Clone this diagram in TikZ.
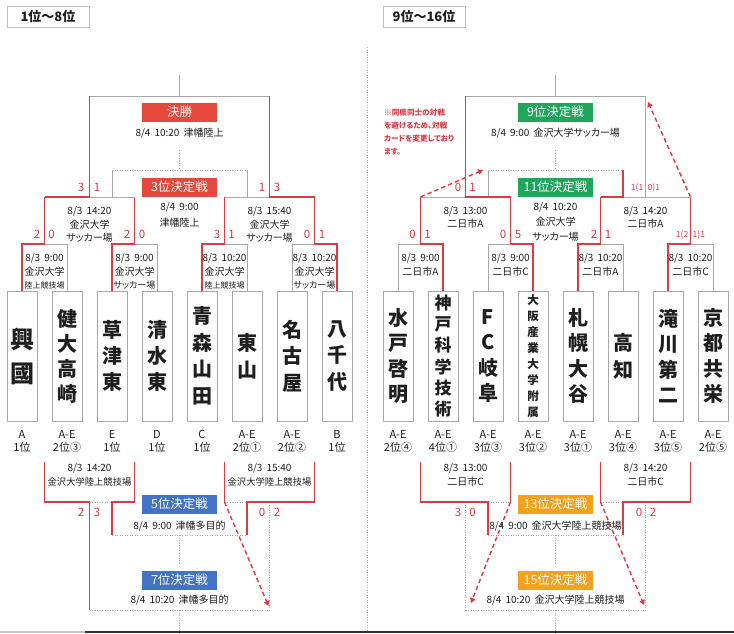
\documentclass[tikz,border=0pt]{standalone}
\usepackage{fontspec}
\setmainfont{Noto Sans CJK JP}[RawFeature=+palt]
\usetikzlibrary{arrows.meta}
\definecolor{rd}{HTML}{DC3A44}
\definecolor{gr}{HTML}{A8A8A8}
\definecolor{lbred}{HTML}{E5493D}
\definecolor{lbblue}{HTML}{4472C4}
\definecolor{lbgreen}{HTML}{1FA65A}
\definecolor{lborange}{HTML}{F4A11D}
\definecolor{txt}{HTML}{1E1E1E}
\definecolor{barc}{HTML}{2E323C}
\begin{document}
\begin{tikzpicture}[x=1pt,y=-1pt,
  gl/.style={draw=gr,line width=0.9pt},
  rl/.style={draw=rd,line width=1.3pt},
  dl/.style={draw=gr,line width=0.8pt,dash pattern=on 0.9pt off 1.6pt},
  team/.style={draw=gr,fill=white,line width=0.9pt,minimum width=30pt,minimum height=130pt,inner sep=0pt,align=center,text=txt},
  tag/.style={align=center,inner sep=0pt,text=txt,font=\fontsize{11}{13}\selectfont},
  lbl/.style={minimum width=75pt,minimum height=19pt,inner sep=0pt,text=white,font=\fontsize{12.5}{14}\selectfont},
  info/.style={align=center,inner sep=0pt,text=txt,font=\fontsize{10}{13.5}\selectfont},
  sc/.style={inner sep=0pt,text=rd,font=\fontsize{11.5}{12}\selectfont},
  scs/.style={inner sep=0pt,text=rd,font=\fontsize{8.5}{9}\selectfont},
  arr/.style={draw=rd,line width=1.4pt,dash pattern=on 4.5pt off 3pt,-{Triangle[length=5pt,width=5.5pt]}},
  ttl/.style={draw=gr!70,line width=0.8pt,minimum width=82pt,minimum height=21pt,inner sep=0pt,text=txt,font=\bfseries\fontsize{13}{14}\selectfont}
]
\useasboundingbox (0,0) rectangle (734,633);
\fill[white] (0,0) rectangle (734,633);

% titles
\node[ttl] (ttlL) at (48,16.5) {1位～8位};
\node[ttl] (ttlR) at (424,16.5) {9位～16位};

% divider
\coordinate (dv1) at (367,47);
\coordinate (dv2) at (367,633);
\draw[dl] (dv1) -- (dv2);

% bottom bar
\fill[gray!45] (0,631) rectangle (85,633);
\fill[barc] (85,631) rectangle (734,633);

% coordinates
\coordinate (m1) at (44.5,244); \coordinate (m2) at (134.5,244);
\coordinate (m3) at (224.5,244); \coordinate (m4) at (314.5,244);
\coordinate (m5) at (420.5,244); \coordinate (m6) at (510.5,244);
\coordinate (m7) at (600.5,244); \coordinate (m8) at (690.5,244);
\coordinate (s1) at (89.5,197); \coordinate (s2) at (269.5,197);
\coordinate (s3) at (465.5,197); \coordinate (s4) at (645.5,197);
\coordinate (f1) at (179.5,96); \coordinate (f2) at (555.5,96);
\coordinate (ft1) at (179.5,75); \coordinate (ft2) at (555.5,75);
\coordinate (q1) at (112,170); \coordinate (q2) at (247,170);
\coordinate (q3) at (488,170); \coordinate (q4) at (623,170);
\coordinate (h1) at (179.5,150); \coordinate (h1e) at (179.5,170);
\coordinate (h2) at (555.5,150); \coordinate (h2e) at (555.5,170);
\coordinate (n1) at (44.5,462); \coordinate (n2) at (134.5,462);
\coordinate (n3) at (224.5,462); \coordinate (n4) at (314.5,462);
\coordinate (n5) at (420.5,462); \coordinate (n6) at (510.5,462);
\coordinate (n7) at (600.5,462); \coordinate (n8) at (690.5,462);
\coordinate (w1) at (89.5,502); \coordinate (w2) at (269.5,502);
\coordinate (w3) at (465.5,502); \coordinate (w4) at (645.5,502);
\coordinate (p1) at (112,535); \coordinate (p2) at (247,535);
\coordinate (p3) at (488,535); \coordinate (p4) at (623,535);
\coordinate (z1) at (89.5,610); \coordinate (z2) at (269.5,610);
\coordinate (z3) at (465.5,610); \coordinate (z4) at (645.5,610);
\coordinate (c5a) at (179.5,535); \coordinate (c5b) at (179.5,563);
\coordinate (c7a) at (179.5,610); \coordinate (c7b) at (179.5,633);
\coordinate (c13a) at (555.5,535); \coordinate (c13b) at (555.5,563);
\coordinate (c15a) at (555.5,610); \coordinate (c15b) at (555.5,633);
\coordinate (ah1) at (483,170); \coordinate (ah2) at (648,102);
\coordinate (ah3) at (268.5,606); \coordinate (ah4) at (471,603);
\coordinate (ah5) at (644,605);

% team boxes
\node[team,font=\bfseries\fontsize{24}{34}\selectfont] (t1) at (22,356) {興\\國};
\node[team,font=\bfseries\fontsize{20}{25}\selectfont] (t2) at (67,356) {健\\大\\高\\崎};
\node[team,font=\bfseries\fontsize{20}{26}\selectfont] (t3) at (112,356) {草\\津\\東};
\node[team,font=\bfseries\fontsize{20}{26}\selectfont] (t4) at (157,356) {清\\水\\東};
\node[team,font=\bfseries\fontsize{20}{26.5}\selectfont] (t5) at (202,356) {青\\森\\山\\田};
\node[team,font=\bfseries\fontsize{20}{27}\selectfont] (t6) at (247,356) {東\\山};
\node[team,font=\bfseries\fontsize{20}{26.5}\selectfont] (t7) at (292,356) {名\\古\\屋};
\node[team,font=\bfseries\fontsize{20}{26.5}\selectfont] (t8) at (337,356) {八\\千\\代};
\node[team,font=\bfseries\fontsize{20}{25.5}\selectfont] (t9) at (398,356) {水\\戸\\啓\\明};
\node[team,font=\bfseries\fontsize{17}{21.3}\selectfont] (t10) at (443,356) {神\\戸\\科\\学\\技\\術};
\node[team,font=\bfseries\fontsize{20}{25.5}\selectfont] (t11) at (488,356) {F\\C\\岐\\阜};
\node[team,font=\bfseries\fontsize{11.5}{16.1}\selectfont] (t12) at (533,356) {大\\阪\\産\\業\\大\\学\\附\\属};
\node[team,font=\bfseries\fontsize{20}{25.5}\selectfont] (t13) at (578,356) {札\\幌\\大\\谷};
\node[team,font=\bfseries\fontsize{20}{27}\selectfont] (t14) at (623,356) {高\\知};
\node[team,font=\bfseries\fontsize{20}{25.5}\selectfont] (t15) at (668,356) {滝\\川\\第\\二};
\node[team,font=\bfseries\fontsize{20}{25.5}\selectfont] (t16) at (713,356) {京\\都\\共\\栄};

% tags
\node[tag] (g1) at (22,441.5) {A\\1位};
\node[tag] (g2) at (67,441.5) {A-E\\2位③};
\node[tag] (g3) at (112,441.5) {E\\1位};
\node[tag] (g4) at (157,441.5) {D\\1位};
\node[tag] (g5) at (202,441.5) {C\\1位};
\node[tag] (g6) at (247,441.5) {A-E\\2位①};
\node[tag] (g7) at (292,441.5) {A-E\\2位②};
\node[tag] (g8) at (337,441.5) {B\\1位};
\node[tag] (g9) at (398,441.5) {A-E\\2位④};
\node[tag] (g10) at (443,441.5) {A-E\\4位①};
\node[tag] (g11) at (488,441.5) {A-E\\3位③};
\node[tag] (g12) at (533,441.5) {A-E\\3位②};
\node[tag] (g13) at (578,441.5) {A-E\\3位①};
\node[tag] (g14) at (623,441.5) {A-E\\3位④};
\node[tag] (g15) at (668,441.5) {A-E\\3位⑤};
\node[tag] (g16) at (713,441.5) {A-E\\2位⑤};

% ---------- top left ----------
\draw[gl] (t2.north) |- (m1);
\draw[rl] (t1.north) |- (m1) -- (m1 |- s1);
\draw[gl] (t4.north) |- (m2);
\draw[rl] (t3.north) |- (m2) -- (m2 |- s1);
\draw[gl] (t6.north) |- (m3);
\draw[rl] (t5.north) |- (m3) -- (m3 |- s2);
\draw[gl] (t7.north) |- (m4);
\draw[rl] (t8.north) |- (m4) -- (m4 |- s2);
\draw[gl] (s1) -- (m2 |- s1);
\draw[gl] (q1) -- (q1 |- s1);
\draw[gl] (m3 |- s2) -- (s2);
\draw[gl] (q2) -- (q2 |- s2);
\draw[gl] (s1 |- f1) -- (s2 |- f1);
\draw[gl] (f1) -- (ft1);
\draw[rl] (m1 |- s1) -- (s1) -- (s1 |- f1);
\draw[rl] (m4 |- s2) -- (s2) -- (s2 |- f1);
\draw[dl] (q1) -- (q2);
\draw[dl] (h1) -- (h1e);

% ---------- top right ----------
\draw[gl] (t9.north) |- (m5);
\draw[rl] (t10.north) |- (m5) -- (m5 |- s3);
\draw[gl] (t11.north) |- (m6);
\draw[rl] (t12.north) |- (m6) -- (m6 |- s3);
\draw[gl] (t14.north) |- (m7);
\draw[rl] (t13.north) |- (m7) -- (m7 |- s4);
\draw[gl] (t16.north) |- (m8);
\draw[rl] (t15.north) |- (m8) -- (m8 |- s4);
\draw[gl] (m5 |- s3) -- (s3);
\draw[gl] (q3) -- (q3 |- s3);
\draw[gl] (q4 |- s4) -- (m8 |- s4);
\draw[gl] (s4) -- (s4 |- f2);
\draw[gl] (s3 |- f2) -- (s4 |- f2);
\draw[gl] (f2) -- (ft2);
\draw[rl] (m6 |- s3) -- (s3) -- (s3 |- f2);
\draw[rl] (m7 |- s4) -- (q4 |- s4) -- (q4);
\draw[dl] (q3) -- (q4);
\draw[dl] (h2) -- (h2e);

% ---------- bottom left ----------
\draw[dl] (w1) -- (p1 |- w1);
\draw[rl] (n1) |- (w1) -- (z1);
\draw[rl] (n2) |- (p1 |- w1) -- (p1);
\draw[dl] (n3 |- w2) -- (p2 |- w2);
\draw[dl] (w2) -- (z2);
\draw[rl] (n3) -- (n3 |- w2);
\draw[rl] (n4) |- (p2 |- w2) -- (p2);
\draw[dl] (p1) -- (p2);
\draw[dl] (c5a) -- (c5b);
\draw[dl] (z1) -- (z2);
\draw[dl] (c7a) -- (c7b);

% ---------- bottom right ----------
\draw[dl] (p3 |- w3) -- (n6 |- w3);
\draw[dl] (w3) -- (z3);
\draw[rl] (n5) |- (p3 |- w3) -- (p3);
\draw[rl] (n6) -- (n6 |- w3);
\draw[dl] (n7 |- w4) -- (p4 |- w4);
\draw[dl] (w4) -- (z4);
\draw[rl] (n7) -- (n7 |- w4);
\draw[rl] (n8) |- (p4 |- w4) -- (p4);
\draw[dl] (p3) -- (p4);
\draw[dl] (c13a) -- (c13b);
\draw[dl] (z3) -- (z4);
\draw[dl] (c15a) -- (c15b);

% arrows
\draw[arr] (m5 |- s3) -- (ah1);
\draw[arr] (m8 |- s4) -- (ah2);
\draw[arr] (n3 |- w2) -- (ah3);
\draw[arr] (n6 |- w3) -- (ah4);
\draw[arr] (n7 |- w4) -- (ah5);

% labels top left
\node[lbl,fill=lbred] (Lfin) at (179.5,112) {決勝};
\node[info] (Lfint) at (179.5,133) {8/4\hspace{4pt}10:20\hspace{4pt}津幡陸上};
\node[lbl,fill=lbred] (L3) at (179.5,187) {3位決定戦};
\node[info] (L3t) at (179.5,215) {8/4\hspace{4pt}9:00\\[2pt]津幡陸上};
\node[info] (sLt) at (89.5,224.5) {8/3\hspace{4pt}14:20\\金沢大学\\サッカー場};
\node[info] (sRt) at (269.5,224.5) {8/3\hspace{4pt}15:40\\金沢大学\\サッカー場};
\node[info] (r1t) at (44.5,271.5) {8/3\hspace{4pt}9:00\\金沢大学\\{\fontsize{8}{13.5}\selectfont 陸上競技場}};
\node[info] (r2t) at (134.5,271.5) {8/3\hspace{4pt}9:00\\金沢大学\\{\fontsize{9}{13.5}\selectfont サッカー場}};
\node[info] (r3t) at (224.5,271.5) {8/3\hspace{4pt}10:20\\金沢大学\\{\fontsize{8}{13.5}\selectfont 陸上競技場}};
\node[info] (r4t) at (314.5,271.5) {8/3\hspace{4pt}10:20\\金沢大学\\{\fontsize{9}{13.5}\selectfont サッカー場}};

% labels top right
\node[lbl,fill=lbgreen] (R9) at (555.5,112) {9位決定戦};
\node[info] (R9t) at (555.5,133) {8/4\hspace{4pt}9:00\hspace{4pt}金沢大学サッカー場};
\node[lbl,fill=lbgreen] (R11) at (555.5,187) {11位決定戦};
\node[info,font=\fontsize{10}{15}\selectfont] (R11t) at (555.5,222) {8/4\hspace{4pt}10:20\\金沢大学\\サッカー場};
\node[info] (s3t) at (465.5,217.5) {8/3\hspace{4pt}13:00\\二日市A};
\node[info] (s4t) at (645.5,217.5) {8/3\hspace{4pt}14:20\\二日市A};
\node[info] (r5t) at (420.5,265) {8/3\hspace{4pt}9:00\\二日市A};
\node[info] (r6t) at (510.5,265) {8/3\hspace{4pt}9:00\\二日市C};
\node[info] (r7t) at (600.5,265) {8/3\hspace{4pt}10:20\\二日市A};
\node[info] (r8t) at (690.5,265) {8/3\hspace{4pt}10:20\\二日市C};

% note
\node[anchor=north west,align=left,inner sep=0pt,text=rd,font=\bfseries\fontsize{7.6}{13}\selectfont] (note) at (384,108.5) {※同県同士の対戦\\を避けるため、対戦\\カードを変更しており\\ます。};

% labels bottom left
\node[info] (b1t) at (89.5,475) {8/3\hspace{4pt}14:20\\{\fontsize{9.3}{13.5}\selectfont 金沢大学陸上競技場}};
\node[info] (b2t) at (269.5,475) {8/3\hspace{4pt}15:40\\{\fontsize{9.3}{13.5}\selectfont 金沢大学陸上競技場}};
\node[lbl,fill=lbblue] (L5) at (179.5,504) {5位決定戦};
\node[info] (L5t) at (179.5,526) {8/4\hspace{4pt}9:00\hspace{4pt}津幡多目的};
\node[lbl,fill=lbblue] (L7) at (179.5,580) {7位決定戦};
\node[info] (L7t) at (179.5,600) {8/4\hspace{4pt}10:20\hspace{4pt}津幡多目的};

% labels bottom right
\node[info] (b3t) at (465.5,475) {8/3\hspace{4pt}13:00\\二日市C};
\node[info] (b4t) at (645.5,475) {8/3\hspace{4pt}14:20\\二日市C};
\node[lbl,fill=lborange] (R13) at (555.5,504) {13位決定戦};
\node[info] (R13t) at (555.5,526) {8/4\hspace{4pt}9:00\hspace{4pt}金沢大学陸上競技場};
\node[lbl,fill=lborange] (R15) at (555.5,580) {15位決定戦};
\node[info] (R15t) at (555.5,600) {8/4\hspace{4pt}10:20\hspace{4pt}金沢大学陸上競技場};

% scores left
\node[sc] (k1) at (37,234) {2}; \node[sc] (k2) at (51.5,234) {0};
\node[sc] (k3) at (127,234) {2}; \node[sc] (k4) at (142,234) {0};
\node[sc] (k5) at (217,234) {3}; \node[sc] (k6) at (231.5,234) {1};
\node[sc] (k7) at (307,234) {0}; \node[sc] (k8) at (322,234) {1};
\node[sc] (k9) at (81,187) {3}; \node[sc] (k10) at (97,187) {1};
\node[sc] (k11) at (262,187) {1}; \node[sc] (k12) at (277,187) {3};
\node[sc] (k13) at (81,512) {2}; \node[sc] (k14) at (97,512) {3};
\node[sc] (k15) at (262,512) {0}; \node[sc] (k16) at (277,512) {2};
% scores right
\node[sc] (k17) at (412.5,234) {0}; \node[sc] (k18) at (427.5,234) {1};
\node[sc] (k19) at (503,234) {0}; \node[sc] (k20) at (518,234) {5};
\node[sc] (k21) at (594,234) {2}; \node[sc] (k22) at (608,234) {1};
\node[scs,anchor=east] (k23) at (688.5,235) {1(2};
\node[scs,anchor=west] (k24) at (692.5,235) {1)1};
\node[sc] (k25) at (458,187) {0}; \node[sc] (k26) at (472.5,187) {1};
\node[scs,anchor=east] (k27) at (643.5,188) {1(1};
\node[scs,anchor=west] (k28) at (647.5,188) {0)1};
\node[sc] (k29) at (458,512) {3}; \node[sc] (k30) at (472.5,512) {0};
\node[sc] (k31) at (639,512) {0}; \node[sc] (k32) at (653,512) {2};
\end{tikzpicture}
\end{document}
